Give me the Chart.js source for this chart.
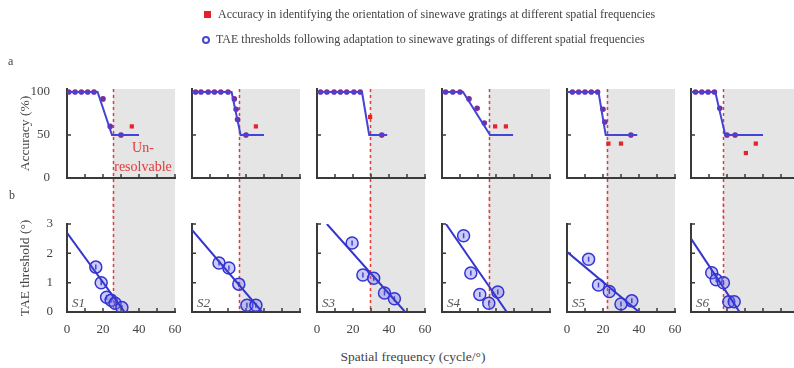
<!DOCTYPE html>
<html>
<head>
<meta charset="utf-8">
<script src="https://cdn.jsdelivr.net/npm/chart.js@4.4.1/dist/chart.umd.min.js"></script>
<style>
  body { margin: 0; background: #fff; width: 794px; height: 368px; position: relative; overflow: hidden;
         font-family: "Liberation Serif", "Times New Roman", serif; color: #444; }
  canvas { position: absolute; }
  .t { position: absolute; white-space: nowrap; z-index: 10; }
</style>
</head>
<body>
<div class="t" style="left:204px;top:11px;width:7px;height:7px;background:#e0222a"></div>
<div class="t" style="left:218px;top:7px;font-size:12px">Accuracy in identifying the orientation of sinewave gratings at different spatial frequencies</div>
<div class="t" style="left:202px;top:36px;width:4px;height:4px;border:2px solid #4848d0;border-radius:50%"></div>
<div class="t" style="left:216px;top:32px;font-size:12px">TAE thresholds following adaptation to sinewave gratings of different spatial frequencies</div>
<div class="t" style="left:8px;top:54px;font-size:12px">a</div>
<div class="t" style="left:9px;top:188px;font-size:12px">b</div>
<div class="t" style="left:103px;top:140px;width:80px;text-align:center;font-size:14px;color:#e23b3b">Un-</div>
<div class="t" style="left:103px;top:159px;width:80px;text-align:center;font-size:14px;color:#e23b3b">resolvable</div>
<div class="t" style="left:313px;top:349px;width:200px;text-align:center;font-size:13.5px">Spatial frequency (cycle/°)</div>

<script>
// subjects and where each one stops resolving the gratings (cycle/°)
const subjects = ["S1", "S2", "S3", "S4", "S5", "S6"];
const resolutionLimit = [25.5, 26, 29.5, 26, 22, 18];

// a: accuracy (%) vs spatial frequency
const accFit = [
  [[0, 100], [17, 100], [25, 50], [40, 50]],
  [[0, 100], [22, 100], [27, 50], [40, 50]],
  [[0, 100], [25, 100], [29, 50], [39, 50]],
  [[0, 100], [11.7, 100], [26.7, 50], [39.5, 50]],
  [[0, 100], [17.5, 100], [21.5, 50], [39, 50]],
  [[0, 100], [13.5, 100], [19, 50], [40, 50]]
];
const accResolved = [
  [[1, 100], [4.5, 100], [8, 100], [11.5, 100], [15, 100], [20, 92], [24, 60], [30, 50]],
  [[2, 100], [5, 100], [9, 100], [12.5, 100], [16, 100], [20, 100], [23.5, 92], [24.5, 80], [25.3, 68], [30, 50]],
  [[2, 100], [5.5, 100], [9.5, 100], [13, 100], [16.5, 100], [20.5, 100], [24, 100], [36, 50]],
  [[2, 100], [6, 100], [10, 100], [15, 92], [19.5, 81], [23.5, 64]],
  [[3, 100], [6.5, 100], [10, 100], [13.5, 100], [17, 100], [20, 80], [21, 65], [35.5, 50]],
  [[2.5, 100], [6, 100], [9.5, 100], [13, 100], [16, 81], [20, 50], [24.5, 50]]
];
const accUnresolved = [
  [[36, 60]],
  [[35.5, 60]],
  [[29.5, 71]],
  [[29.5, 60], [35.5, 60]],
  [[23, 40], [30, 40]],
  [[30.5, 29], [36, 40]]
];

// b: TAE threshold (°) vs spatial frequency
const taeFit = [
  [[0, 2.7], [32, 0]],
  [[0, 2.8], [39, 0]],
  [[5.5, 3], [49, 0]],
  [[2.2, 3], [36, 0]],
  [[0, 2.05], [40, 0]],
  [[0, 2.5], [27, 0]]
];
const taeThreshold = [
  [[16, 1.53], [19, 1.0], [22, 0.5], [24.5, 0.4], [26.7, 0.3], [30.5, 0.15]],
  [[15, 1.67], [20.5, 1.5], [26, 0.95], [30.5, 0.23], [35.5, 0.23]],
  [[19.5, 2.35], [25.5, 1.26], [31.5, 1.15], [37.5, 0.65], [43, 0.45]],
  [[12, 2.6], [16, 1.33], [21, 0.6], [26, 0.3], [31, 0.68]],
  [[12, 1.8], [17.5, 0.92], [23.5, 0.7], [30, 0.27], [36, 0.38]],
  [[11.5, 1.34], [14, 1.1], [18, 1.0], [21, 0.35], [24, 0.35]]
];

const xTicks = [0, 10, 20, 30, 40, 50, 60];
const accTicks = [0, 50, 100];
const taeTicks = [0, 1, 2, 3];

const colLeft = [67, 192, 317, 442, 567, 691];
const FONT = "'Liberation Serif', 'Times New Roman', serif";
const toXY = (arr) => arr.map((p) => ({ x: p[0], y: p[1] }));

// grey "unresolvable" band, red dotted boundary and inward tick marks
const panelDeco = {
  id: "panelDeco",
  beforeDraw(chart, args, opts) {
    const { ctx, chartArea, scales } = chart;
    const px = scales.x.getPixelForValue(opts.limit);
    const top = opts.row === "a" ? chartArea.top : 0;
    const bottom = opts.row === "a" ? chart.height : chartArea.bottom;
    ctx.save();
    ctx.fillStyle = "#e5e5e5";
    ctx.fillRect(px, top, chartArea.right - px, bottom - top);
    ctx.restore();
  },
  beforeDatasetsDraw(chart, args, opts) {
    const { ctx, chartArea, scales } = chart;
    const px = Math.round(scales.x.getPixelForValue(opts.limit)) + 0.5;
    const top = opts.row === "a" ? chartArea.top : 0;
    const bottom = opts.row === "a" ? chart.height : chartArea.bottom;
    ctx.save();
    ctx.strokeStyle = "#e43a3a";
    ctx.lineWidth = 1.5;
    ctx.setLineDash([3, 3]);
    ctx.beginPath();
    ctx.moveTo(px, top);
    ctx.lineTo(px, bottom);
    ctx.stroke();
    ctx.setLineDash([]);
    // inward ticks
    ctx.strokeStyle = "#3a3a3a";
    ctx.lineWidth = 1.5;
    ctx.beginPath();
    scales.x.ticks.forEach((t) => {
      const x = scales.x.getPixelForValue(t.value);
      ctx.moveTo(x, chartArea.bottom);
      ctx.lineTo(x, chartArea.bottom - 4);
    });
    scales.y.ticks.forEach((t) => {
      const y = scales.y.getPixelForValue(t.value);
      ctx.moveTo(chartArea.left, y);
      ctx.lineTo(chartArea.left + 4, y);
    });
    ctx.stroke();
    ctx.restore();
  }
};

function makePanel(i, row) {
  const canvas = document.createElement("canvas");
  const isA = row === "a";
  // chart area: a -> y 89..178, b -> y 224..312; x 0..60 over 108px
  const top = isA ? 61 : 198;
  const padTop = isA ? 28 : 26;
  canvas.width = 66 + 108 + 22;
  canvas.height = isA ? 222 - top : 348 - top;
  canvas.style.left = (colLeft[i] - 66) + "px";
  canvas.style.top = top + "px";
  document.body.appendChild(canvas);

  const datasets = isA
    ? [
        { data: toXY(accFit[i]), showLine: true, borderColor: "#4444d6", borderWidth: 2, pointRadius: 0 },
        { data: toXY(accResolved[i]), pointRadius: 2.8, pointBackgroundColor: "#7b2d9e", pointBorderWidth: 0 },
        { data: toXY(accUnresolved[i]), pointStyle: "rect", pointRadius: 3, pointBackgroundColor: "#e8242a", pointBorderWidth: 0 }
      ]
    : [
        { data: toXY(taeFit[i]), showLine: true, borderColor: "#3535cc", borderWidth: 2, pointRadius: 0 },
        { data: toXY(taeThreshold[i]), pointRadius: 6, pointBackgroundColor: "rgba(110,110,240,0.35)", pointBorderColor: "#3434d4", pointBorderWidth: 1.5 },
        { data: toXY(taeThreshold[i]), pointStyle: "line", rotation: 90, pointRadius: 2.5, pointBorderColor: "#2c2cb0", pointBorderWidth: 1.5 }
      ];

  new Chart(canvas.getContext("2d"), {
    type: "scatter",
    data: { datasets: datasets },
    options: {
      responsive: false,
      animation: false,
      devicePixelRatio: 1,
      layout: { padding: { top: padTop, right: 22, left: 0, bottom: 0 } },
      plugins: {
        legend: { display: false },
        tooltip: { enabled: false },
        panelDeco: { limit: resolutionLimit[i], row: row }
      },
      scales: {
        x: {
          type: "linear",
          min: 0,
          max: 60,
          afterBuildTicks: (s) => { s.ticks = xTicks.map((v) => ({ value: v })); },
          afterFit: (s) => { s.height = isA ? 44 : 36; },
          grid: { display: false, drawTicks: false },
          border: { display: true, color: "#3a3a3a", width: 2 },
          ticks: {
            display: !isA && i % 2 === 0,
            padding: 10,
            maxRotation: 0,
            color: "#444",
            font: { family: FONT, size: 13 },
            callback: (v) => (v % 20 === 0 ? v : "")
          }
        },
        y: {
          type: "linear",
          min: 0,
          max: isA ? 103.5 : 3,
          afterBuildTicks: (s) => { s.ticks = (isA ? accTicks : taeTicks).map((v) => ({ value: v })); },
          afterFit: (s) => { s.width = 66; },
          grid: { display: false, drawTicks: false },
          border: { display: true, color: "#3a3a3a", width: 2 },
          title: {
            display: i === 0,
            text: isA ? "Accuracy (%)" : "TAE threshold (°)",
            color: "#444",
            font: { family: FONT, size: 13.5 },
            padding: { top: 16, bottom: 0 }
          },
          ticks: {
            display: i === 0,
            padding: isA ? 17 : 14,
            color: "#444",
            font: { family: FONT, size: 13 }
          }
        }
      }
    },
    plugins: [panelDeco]
  });

  if (!isA) {
    const lab = document.createElement("div");
    lab.className = "t";
    lab.style.cssText = "left:" + (colLeft[i] + 5) + "px;top:295px;font-size:13px;font-style:italic;color:#555";
    lab.textContent = subjects[i];
    document.body.appendChild(lab);
  }
}

subjects.forEach((s, i) => {
  makePanel(i, "a");
  makePanel(i, "b");
});
</script>
</body>
</html>
